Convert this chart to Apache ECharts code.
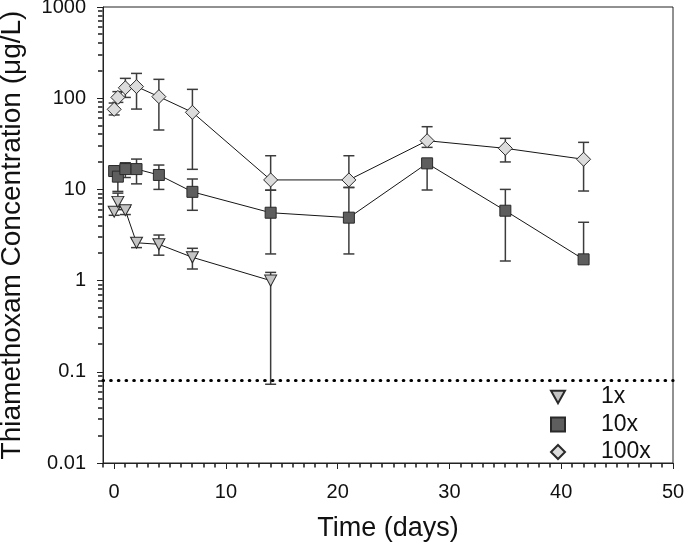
<!DOCTYPE html>
<html>
<head>
<meta charset="utf-8">
<script src="https://cdn.jsdelivr.net/npm/echarts@6/dist/echarts.min.js"></script>
<style>
  html, body { margin: 0; padding: 0; background: #fff; }
  #chart { width: 685px; height: 546px; }
</style>
</head>
<body>
<div id="chart"></div>
<script>
// sampling days
var days = [0, 0.33, 1, 2, 4, 7, 14, 21, 28, 35, 42];

// 1x treatment (sampled up to day 14)
var c1 = [5.7, 7.3, 5.9, 2.6, 2.5, 1.8, 1.0];
var c1Lo = [5.2, 6.0, 5.3, 2.3, 1.9, 1.34, 0.073];
var c1Hi = [6.3, 9.1, 6.4, 2.9, 3.16, 2.26, 1.23];

// 10x treatment
var c10 = [15.9, 13.8, 16.7, 16.7, 14.4, 9.4, 5.55, 4.9, 19.3, 5.84, 1.71];
var c10Lo = [14.5, 9.5, 13.5, 11.5, 10, 5.9, 1.96, 1.96, 9.85, 1.64, 1.71];
var c10Hi = [17.5, 17.5, 19.6, 21.5, 18.5, 13, 9.8, 10.5, 21, 10, 4.36];

// 100x treatment
var c100 = [75.5, 102, 130, 134, 104, 70, 12.7, 12.7, 34.2, 28.2, 21.4];
var c100Lo = [65.5, 90, 102, 76, 44.8, 16.6, 9.8, 10.5, 28.9, 20, 9.6];
var c100Hi = [88.5, 118, 165, 187, 161, 125, 23.4, 23.4, 48.7, 36.3, 32.8];

// detection limit (dotted line)
var lod = 0.08;

var xMin = -1, xMax = 50, yMin = 0.01, yMax = 1000;
var xMajor = [0, 10, 20, 30, 40, 50];
var xMinor = [];
for (var i = xMin; i <= xMax; i++) if (xMajor.indexOf(i) < 0) xMinor.push(i);
var yMinor = [];
[0.01, 0.1, 1, 10, 100].forEach(function (d) {
  for (var k = 2; k <= 9; k++) yMinor.push(+(d * k).toPrecision(3));
});

var font = 'Liberation Sans, Arial, sans-serif';
var triDown = 'path://M0,0L10,0L5,9Z';
var square = 'path://M0,0L10,0L10,10L0,10Z';
var diamond = 'path://M5,0L10,5L5,10L0,5Z';

function pairs(vals) {
  return vals.map(function (v, i) { return [days[i], v]; });
}
function bars(lo, hi) {
  return lo.map(function (v, i) { return [days[i], v, hi[i]]; });
}

function errRender(params, api) {
  var x = api.value(0);
  var p1 = api.coord([x, api.value(1)]);
  var p2 = api.coord([x, api.value(2)]);
  var w = 5.5;
  var st = { stroke: '#3c3c3c', lineWidth: 1.5 };
  return {
    type: 'group',
    children: [
      { type: 'line', shape: { x1: p1[0], y1: p1[1], x2: p2[0], y2: p2[1] }, style: st },
      { type: 'line', shape: { x1: p1[0] - w, y1: p1[1], x2: p1[0] + w, y2: p1[1] }, style: st },
      { type: 'line', shape: { x1: p2[0] - w, y1: p2[1], x2: p2[0] + w, y2: p2[1] }, style: st }
    ]
  };
}

function errSeries(name, lo, hi) {
  return {
    name: name,
    type: 'custom',
    renderItem: errRender,
    encode: { x: 0, y: [1, 2] },
    data: bars(lo, hi),
    z: 1,
    silent: true
  };
}

// minor tick marks as small filled bars hanging off the axes
function minorRender(params, api) {
  var p = api.coord([api.value(0), api.value(1)]);
  var horiz = api.value(2) === 1;
  var shape = horiz
    ? { x: Math.round(p[0]) - 5, y: Math.round(p[1]) - 0.75, width: 4.5, height: 1.5 }
    : { x: Math.round(p[0]) - 0.75, y: Math.round(p[1]), width: 1.5, height: 4.5 };
  return { type: 'rect', shape: shape, style: { fill: '#1a1a1a' } };
}

function lineSeries(name, vals, symbol, size, fill) {
  return {
    name: name,
    type: 'line',
    data: pairs(vals),
    symbol: symbol,
    symbolSize: size,
    showAllSymbol: true,
    itemStyle: { color: fill, borderColor: '#2a2a2a', borderWidth: 1 },
    lineStyle: { color: '#151515', width: 1 },
    z: 3
  };
}

var minorData = xMinor.map(function (v) { return [v, yMin, 0]; })
  .concat(yMinor.map(function (v) { return [xMin, v, 1]; }));

var chart = echarts.init(document.getElementById('chart'));

var s1 = lineSeries('1x', c1, triDown, [12, 11], '#c4c4c4');
s1.markLine = {
  silent: true,
  symbol: 'none',
  label: { show: false },
  animation: false,
  lineStyle: { color: '#000', width: 3.2, type: [0.5, 7.2], cap: 'round' },
  data: [{ yAxis: lod }]
};

var option = {
  animation: false,
  grid: {
    left: 103, right: 12, top: 7, bottom: 83,
    outerBoundsMode: 'none',
    containLabel: false,
    show: true, borderColor: '#222', borderWidth: 1
  },
  legend: {
    orient: 'vertical',
    left: 545,
    top: 380,
    itemWidth: 14,
    itemHeight: 14,
    itemGap: 3.5,
    selectedMode: false,
    textStyle: { fontFamily: font, fontSize: 23, color: '#111', lineHeight: 24, padding: [0, 0, 0, 31] },
    data: [
      { name: '1x', icon: triDown },
      { name: '10x', icon: square },
      { name: '100x', icon: diamond }
    ]
  },
  xAxis: {
    type: 'value',
    min: xMin,
    max: xMax,
    name: 'Time (days)',
    nameLocation: 'middle',
    nameGap: 52,
    nameTextStyle: { fontFamily: font, fontSize: 27, color: '#111' },
    axisLine: { show: true, onZero: false, lineStyle: { color: '#222', width: 1 } },
    axisTick: { show: true, length: 6, customValues: xMajor, lineStyle: { color: '#222' } },
    axisLabel: { customValues: xMajor, margin: 19, fontFamily: font, fontSize: 20, color: '#111' },
    splitLine: { show: false }
  },
  yAxis: {
    type: 'log',
    logBase: 10,
    min: yMin,
    max: yMax,
    name: 'Thiamethoxam Concentration (\u03bcg/L)',
    nameLocation: 'middle',
    nameGap: 77,
    nameTextStyle: { fontFamily: font, fontSize: 28, color: '#111' },
    axisLine: { show: true, onZero: false, lineStyle: { color: '#222', width: 1 } },
    axisTick: { show: true, length: 6, lineStyle: { color: '#222' } },
    axisLabel: {
      margin: 17, fontFamily: font, fontSize: 20, color: '#111',
      formatter: function (v) { return String(+(+v).toPrecision(6)); }
    },
    splitLine: { show: false }
  },
  series: [
    errSeries('err1', c1Lo, c1Hi),
    errSeries('err10', c10Lo, c10Hi),
    errSeries('err100', c100Lo, c100Hi),
    {
      name: 'minorTicks',
      type: 'custom',
      renderItem: minorRender,
      encode: { x: 0, y: 1 },
      dimensions: ['x', 'y', 'dir'],
      data: minorData,
      clip: false,
      silent: true,
      z: 10
    },
    s1,
    lineSeries('10x', c10, square, 11, '#5e5e5e'),
    lineSeries('100x', c100, diamond, 14, '#dcdcdc')
  ]
};

chart.setOption(option);
</script>
</body>
</html>
